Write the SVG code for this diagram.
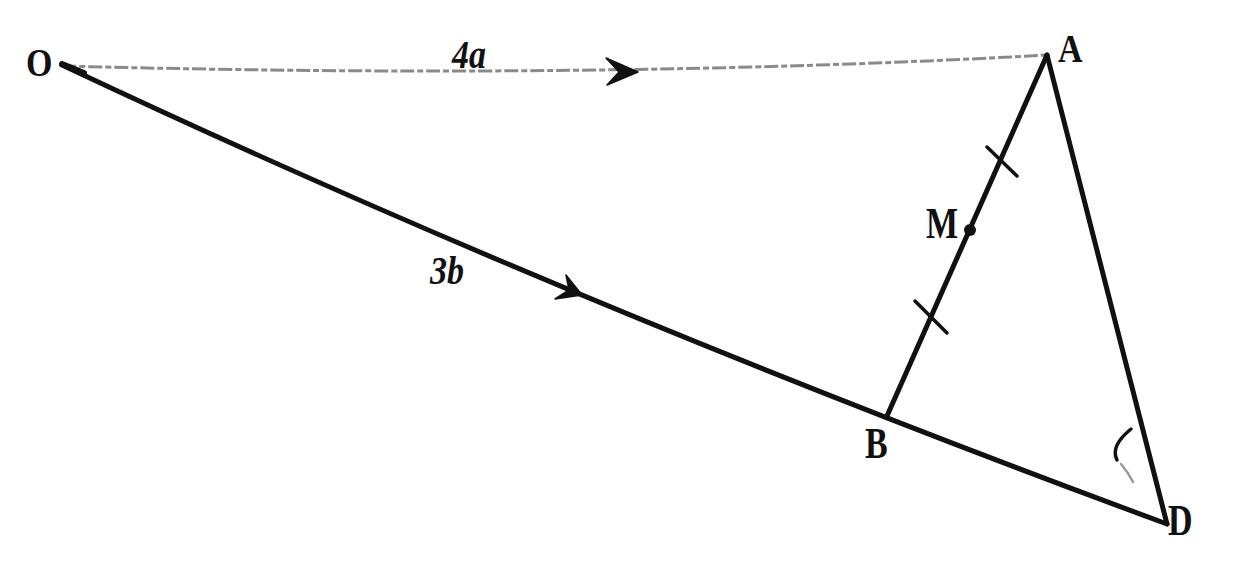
<svg xmlns="http://www.w3.org/2000/svg" width="1240" height="585" viewBox="0 0 1240 585">
<style>
.lbl{font-family:"Liberation Serif","Times New Roman",serif;font-weight:bold;font-size:34px;fill:#111}
.vec{font-family:"Liberation Serif","Times New Roman",serif;font-weight:bold;font-style:italic;font-size:34px;fill:#111}
.ln{stroke:#111;stroke-width:5;fill:none;stroke-linecap:round}
.dash{stroke:#8a8a8a;stroke-width:3;fill:none;stroke-dasharray:14 3 6 3}
.tick{stroke:#111;stroke-width:3.5;fill:none;stroke-linecap:round}
.arr{fill:#111;stroke:#111;stroke-width:1.5;stroke-linejoin:round}
</style>
<rect width="1240" height="585" fill="#fff"/>
<g id="connectors">
  <path id="OA" class="dash" d="M62,66 Q600,80 1047,55"/>
  <path class="arr" d="M606,58 L638,72 L607,85 L619,72 Z"/>
  <path id="OD" class="ln" d="M62,65 Q560,300 1167,524"/>
  <path class="ln" style="stroke-width:6" d="M62,64 L84,73"/>
  <path class="arr" d="M566,275 L582,295 L555,299 L569,290 Z"/>
  <path id="AB" class="ln" d="M1047,55 L887,416"/>
  <path id="AD" class="ln" d="M1047,55 L1167,524"/>
  <path class="tick" d="M987,147 L1017,176"/>
  <path class="tick" d="M915,301 L947,333"/>
  <path class="tick" d="M1131,429 Q1110,446 1117,460"/>
  <path class="tick" style="stroke:#999;stroke-width:2.5" d="M1121,464 Q1128,472 1133,482"/>
  <text class="vec" transform="translate(452,68) scale(1,1.15)">4a</text>
  <text class="vec" transform="translate(430,284) scale(1,1.15)">3b</text>
</g>
<g id="O"><text class="lbl" transform="translate(26,76) scale(1,1.15)">O</text></g>
<g id="A"><text class="lbl" transform="translate(1058,62) scale(1,1.2)">A</text></g>
<g id="M"><circle cx="970" cy="230" r="6" fill="#111"/><text class="lbl" transform="translate(926,238) scale(1,1.3)">M</text></g>
<g id="B"><text class="lbl" transform="translate(865,458) scale(1,1.3)">B</text></g>
<g id="D"><text class="lbl" transform="translate(1168,535) scale(1,1.3)">D</text></g>
</svg>
